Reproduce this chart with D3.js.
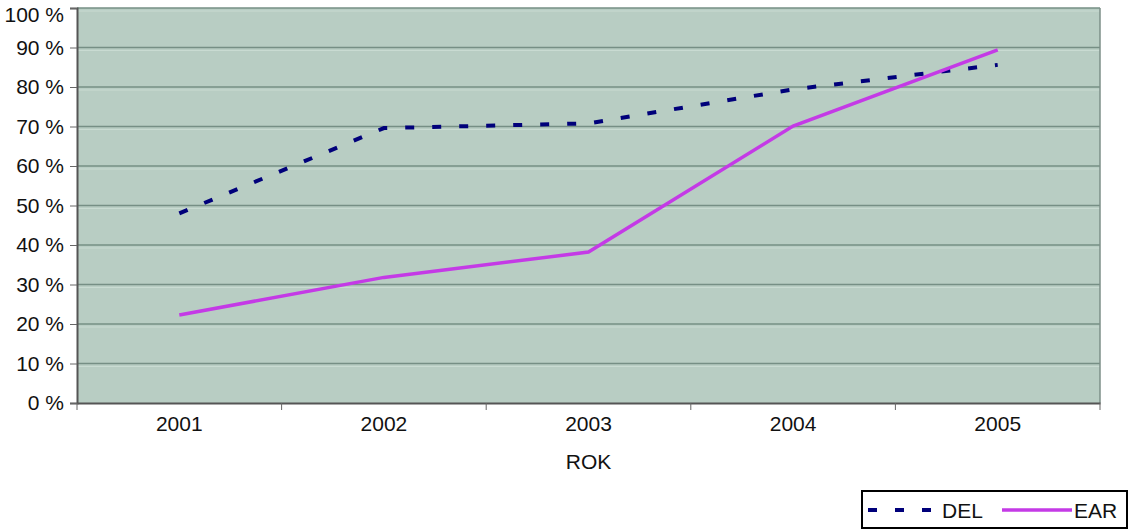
<!DOCTYPE html>
<html><head><meta charset="utf-8">
<script src="https://cdn.jsdelivr.net/npm/d3@7"></script>
<style>body{margin:0;background:#fff}svg{display:block}text{font-family:"Liberation Sans",Arial,sans-serif;fill:#111}</style>
</head><body><svg id="c" width="1131" height="531"></svg>
<script>
const categories = ["2001","2002","2003","2004","2005"];
const delValues = [48, 69.6, 70.8, 79.4, 85.6];
const earValues = [22.3, 31.8, 38.2, 70.1, 89.4];
const yTicks = [0,10,20,30,40,50,60,70,80,90,100];
const seriesNames = ["DEL","EAR"];

const svg = d3.select("#c");
const L=77, R=1100, T=8, B=403;
const x = d3.scaleBand().domain(categories).range([L,R]);
const y = d3.scaleLinear().domain([0,100]).range([B,T]);

svg.append("rect").attr("x",L).attr("y",T).attr("width",R-L).attr("height",B-T).attr("fill","#b8cdc3");
// gridlines
svg.append("g").selectAll("line").data(yTicks.slice(1)).join("line")
  .attr("x1",L).attr("x2",R).attr("y1",d=>y(d)).attr("y2",d=>y(d))
  .attr("stroke","#768f85").attr("stroke-width",1.5);
svg.append("g").selectAll("line").data(yTicks.slice(1)).join("line")
  .attr("x1",L).attr("x2",R).attr("y1",d=>y(d)+3).attr("y2",d=>y(d)+3)
  .attr("stroke","#c9dbd2").attr("stroke-width",1);
// border right
svg.append("line").attr("x1",R).attr("x2",R).attr("y1",T).attr("y2",B).attr("stroke","#7d8f88").attr("stroke-width",1.5);

// y axis
const ya = d3.axisLeft(y).tickValues(yTicks).tickSize(7).tickPadding(6).tickFormat(d=>d+" %");
const gy = svg.append("g").attr("transform",`translate(${L},0)`).call(ya);
gy.select(".domain").attr("stroke","#555").attr("stroke-width",2);
gy.selectAll(".tick line").attr("stroke","#666");
gy.selectAll("text").attr("font-size",21).style("fill","#111");
gy.selectAll(".tick").filter(d=>d===100).select("text").attr("dy","0.62em");

// x axis
const xa = d3.axisBottom(x).tickSize(0).tickPadding(13);
const gx = svg.append("g").attr("transform",`translate(0,${B})`).call(xa);
gx.select(".domain").attr("stroke","#555").attr("stroke-width",2);
gx.selectAll("text").attr("font-size",21).style("fill","#111");
// category boundary ticks
const bounds = categories.map(c=>x(c)).concat([R]);
svg.append("g").selectAll("line").data(bounds).join("line")
  .attr("x1",d=>d).attr("x2",d=>d).attr("y1",B).attr("y2",B+7).attr("stroke","#666");

svg.append("text").attr("x",(L+R)/2).attr("y",469).attr("text-anchor","middle").attr("font-size",21).text("ROK");

const cx = c=>x(c)+x.bandwidth()/2;
const line = d3.line().x((d,i)=>cx(categories[i])).y(d=>y(d));
svg.append("path").datum(delValues).attr("d",line).attr("fill","none")
  .attr("stroke","#00007a").attr("stroke-width",4).attr("stroke-dasharray","9 18");
svg.append("path").datum(earValues).attr("d",line).attr("fill","none")
  .attr("stroke","#c43ae6").attr("stroke-width",3.5);

// legend
const lg = svg.append("g");
lg.append("rect").attr("x",862).attr("y",491).attr("width",265).attr("height",37).attr("fill","#fff").attr("stroke","#000").attr("stroke-width",2);
lg.append("line").attr("x1",868).attr("x2",934).attr("y1",510).attr("y2",510).attr("stroke","#00007a").attr("stroke-width",4).attr("stroke-dasharray","9 18");
lg.append("text").attr("x",942).attr("y",518).attr("font-size",21).text(seriesNames[0]);
lg.append("line").attr("x1",1002).attr("x2",1072).attr("y1",510).attr("y2",510).attr("stroke","#c43ae6").attr("stroke-width",3.5);
lg.append("text").attr("x",1074).attr("y",518).attr("font-size",21).text(seriesNames[1]);
</script></body></html>
